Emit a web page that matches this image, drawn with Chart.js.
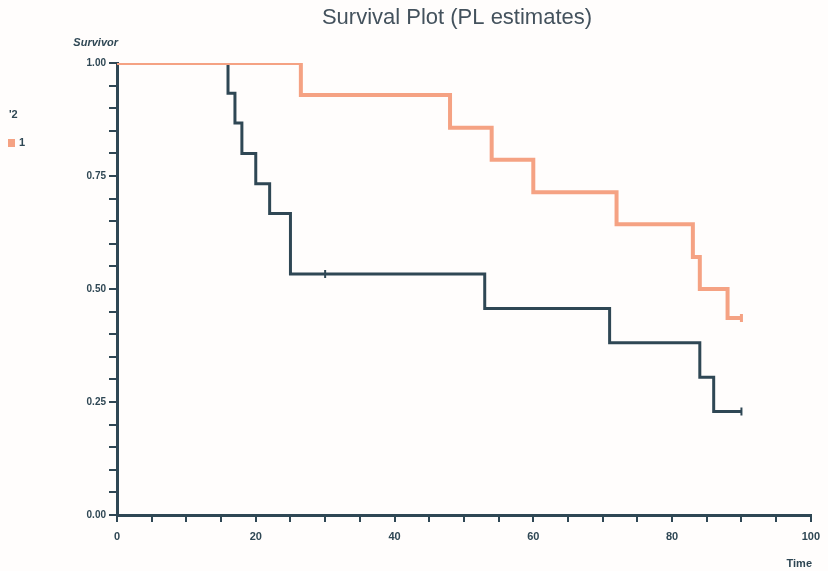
<!DOCTYPE html>
<html><head><meta charset="utf-8">
<script src="https://cdn.jsdelivr.net/npm/chart.js@4.4.0/dist/chart.umd.min.js"></script>
<style>html,body{margin:0;padding:0;background:#fffdfc;}canvas{display:block;}</style>
</head><body>
<canvas id="c" width="828" height="571"></canvas>
<script>
// Data
const titleText = "Survival Plot (PL estimates)";
const yAxisLabel = "Survivor";
const xAxisLabel = "Time";
const legendTitle = "'2";
const legendItem = "1";
const group1Times = [0, 26.5, 48, 54, 60, 72, 83, 84, 88, 90];
const group1Surv  = [1.0, 0.929, 0.857, 0.786, 0.714, 0.643, 0.571, 0.500, 0.436, 0.436];
const group1Censor = [90];
const group2Times = [0, 16, 17, 18, 20, 22, 25, 53, 71, 84, 86, 90];
const group2Surv  = [1.0, 0.933, 0.867, 0.800, 0.733, 0.667, 0.533, 0.457, 0.381, 0.305, 0.229, 0.229];
const group2Censor = [30, 90];
const xTickLabels = [0, 20, 40, 60, 80, 100];
const yTickLabels = [0, 0.25, 0.5, 0.75, 1.0];

const DARK = '#2f4754';
const ORANGE = '#f5a283';

function toXY(t, s){ return t.map((v,i)=>({x:v, y:s[i]})); }
function stepValue(t, s, x){ let v = s[0]; for(let i=0;i<t.length;i++){ if(t[i]<=x) v=s[i]; } return v; }
function censorPts(c, t, s){ return c.map(x=>({x:x, y:stepValue(t,s,x)})); }

const textPlugin = {
  id:'texts',
  afterDraw(chart){
    const ctx = chart.ctx;
    ctx.save();
    ctx.fillStyle = '#44525d';
    ctx.font = '22px "Liberation Sans", Arial, sans-serif';
    ctx.textAlign = 'center'; ctx.textBaseline = 'middle';
    ctx.fillText(titleText, 457, 18);
    ctx.fillStyle = DARK;
    ctx.font = 'italic bold 11px "Liberation Sans", Arial, sans-serif';
    ctx.textAlign = 'right';
    ctx.fillText(yAxisLabel, 118, 43);
    ctx.font = 'bold 11px "Liberation Sans", Arial, sans-serif';
    ctx.fillText(xAxisLabel, 812, 564);
    ctx.textAlign = 'left';
    ctx.font = 'bold 11px "Liberation Sans", Arial, sans-serif';
    ctx.fillText(legendTitle, 9, 115);
    ctx.fillStyle = ORANGE;
    ctx.fillRect(8, 139, 7, 8);
    ctx.fillStyle = DARK;
    ctx.fillText(legendItem, 19, 143);
    ctx.restore();
  }
};

const fmtX = v => xTickLabels.includes(v) ? String(v) : '';
const fmtY = v => yTickLabels.some(t=>Math.abs(t-v)<1e-6) ? v.toFixed(2) : '';

new Chart(document.getElementById('c'), {
  type:'line',
  data:{ datasets:[
    { label:'1', data:toXY(group1Times, group1Surv), stepped:true, borderColor:ORANGE, borderWidth:4, pointRadius:0, fill:false },
    { label:'2', data:toXY(group2Times, group2Surv), stepped:true, borderColor:DARK, borderWidth:3, pointRadius:0, fill:false },
    { type:'scatter', label:'c1', data:censorPts(group1Censor, group1Times, group1Surv), pointStyle:'line', rotation:90, radius:4, borderColor:ORANGE, borderWidth:3, showLine:false },
    { type:'scatter', label:'c2', data:censorPts(group2Censor, group2Times, group2Surv), pointStyle:'line', rotation:90, radius:4, borderColor:DARK, borderWidth:2, showLine:false }
  ]},
  options:{
    responsive:false, animation:false, devicePixelRatio:1,
    layout:{ padding:{ left:0, right:16, top:63, bottom:0 } },
    plugins:{ legend:{display:false}, title:{display:false}, tooltip:{enabled:false} },
    scales:{
      x:{ type:'linear', min:0, max:100,
        afterFit(s){ s.height = 56; },
        border:{ display:true, color:DARK, width:3 },
        grid:{ drawOnChartArea:false, drawTicks:true, tickLength:7, color:DARK, lineWidth:2 },
        ticks:{ stepSize:5, autoSkip:false, maxRotation:0, padding:8, color:DARK, font:{ size:11, weight:'bold', family:'"Liberation Sans", Arial, sans-serif' }, callback:fmtX }
      },
      y:{ type:'linear', min:0, max:1,
        afterFit(s){ s.width = 117; },
        border:{ display:true, color:DARK, width:3 },
        grid:{ drawOnChartArea:false, drawTicks:true, tickLength:8, color:DARK, lineWidth:2 },
        ticks:{ stepSize:0.05, autoSkip:false, padding:3, color:DARK, font:{ size:10, weight:'bold', family:'"Liberation Sans", Arial, sans-serif' }, callback:fmtY }
      }
    }
  },
  plugins:[textPlugin]
});
</script>
</body></html>
